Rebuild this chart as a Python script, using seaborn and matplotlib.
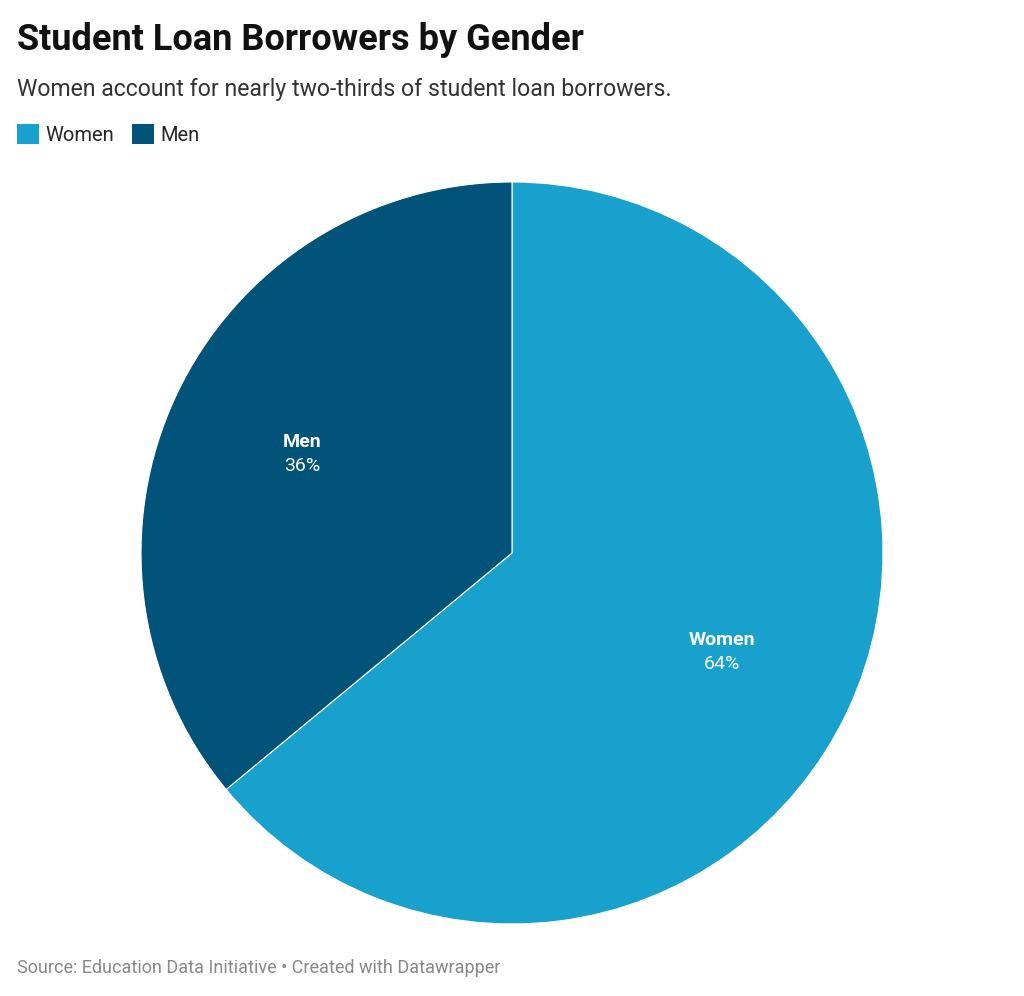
import numpy as np
import matplotlib.pyplot as plt
import seaborn as sns
from matplotlib.patches import Patch

# Data
genders = ['Women', 'Men']
shares = [64, 36]
colors = ['#18a1cd', '#02537a']

sns.set_style('white')
plt.rcParams['font.family'] = ['Roboto', 'DejaVu Sans']

fig = plt.figure(figsize=(10.24, 9.96), dpi=100)
ax = fig.add_axes([0.5 - 0.3623, 0.4448 - 0.3725, 0.7246, 0.745])

wedges, _ = ax.pie(shares, colors=colors, startangle=90, counterclock=False,
                   wedgeprops=dict(edgecolor='white', linewidth=0.8))
ax.set_xlim(-1, 1)
ax.set_ylim(-1, 1)
ax.set_aspect('equal')

# slice labels: bold name + percentage
for w, name, val in zip(wedges, genders, shares):
    ang = np.deg2rad((w.theta1 + w.theta2) / 2)
    x, y = 0.626 * np.cos(ang), 0.626 * np.sin(ang)
    ax.text(x, y + 0.032, name, ha='center', va='center', color='white',
            fontsize=14, fontweight='bold')
    ax.text(x, y - 0.032, f'{val}%', ha='center', va='center', color='white',
            fontsize=14)

fig.text(0.017, 0.960, 'Student Loan Borrowers by Gender', fontsize=26,
         fontweight='bold', color='#111111', va='center')
fig.text(0.017, 0.910, 'Women account for nearly two-thirds of student loan borrowers.',
         fontsize=16.6, color='#333333', va='center')

handles = [Patch(facecolor=c, edgecolor='none') for c in colors]
fig.legend(handles, genders, loc='center left', bbox_to_anchor=(0.0165, 0.865),
           ncol=2, frameon=False, fontsize=14.5, handlelength=1.1, handleheight=1.1,
           handletextpad=0.3, columnspacing=0.9, borderaxespad=0, borderpad=0)

fig.text(0.017, 0.028, 'Source: Education Data Initiative \u2022 Created with Datawrapper',
         fontsize=13, color='#888888', va='center')

fig.savefig('out.png', dpi=100, facecolor='white')
